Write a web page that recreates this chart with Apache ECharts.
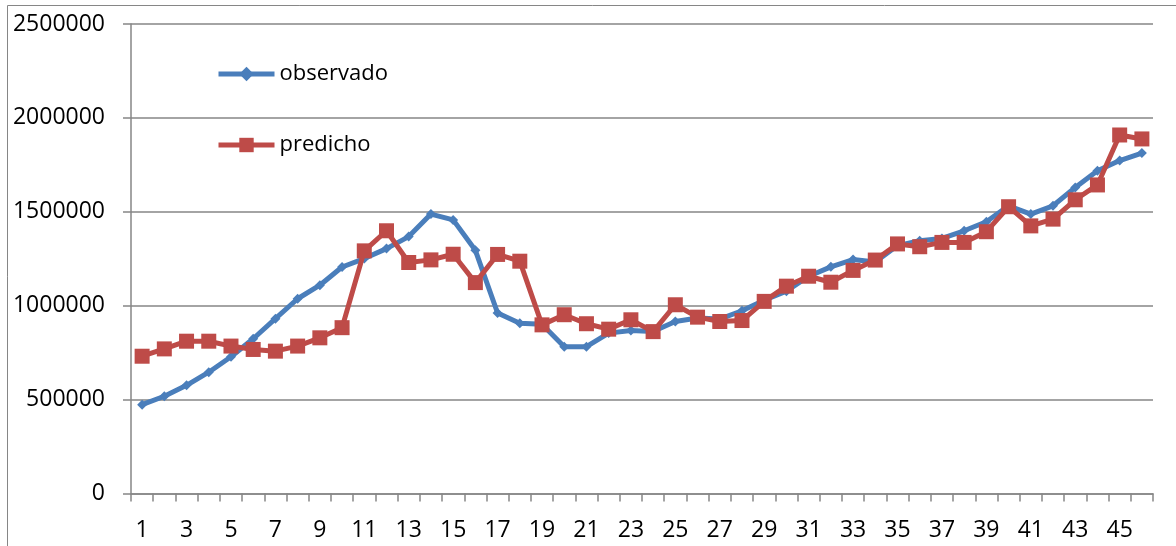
<!DOCTYPE html>
<html>
<head>
<meta charset="utf-8">
<script src="https://cdn.jsdelivr.net/npm/echarts@6/dist/echarts.min.js"></script>
<style>
  html, body { margin: 0; padding: 0; background: #ffffff; }
  #chart { width: 1176px; height: 546px; }
</style>
</head>
<body>
<div id="chart"></div>
<script>
// Periods 1..46
const periods = Array.from({ length: 46 }, (_, i) => String(i + 1));

// Observed series
const observado = [
  473000, 518000, 576000, 646000, 728000, 824000, 931000, 1037000, 1109000, 1206000,
  1251000, 1304000, 1368000, 1488000, 1457000, 1295000, 961000, 907000, 901000, 782000,
  782000, 854000, 868000, 863000, 916000, 934000, 929000, 973000, 1029000, 1077000,
  1157000, 1207000, 1246000, 1233000, 1320000, 1346000, 1358000, 1399000, 1447000, 1532000,
  1488000, 1532000, 1630000, 1719000, 1773000, 1813000
];

// Predicted series
const predicho = [
  731000, 770000, 811000, 811000, 785000, 767000, 758000, 785000, 829000, 883000,
  1292000, 1399000, 1230000, 1244000, 1274000, 1123000, 1273000, 1237000, 898000, 952000,
  904000, 875000, 925000, 862000, 1005000, 939000, 916000, 921000, 1023000, 1104000,
  1157000, 1125000, 1188000, 1243000, 1329000, 1314000, 1337000, 1337000, 1394000, 1527000,
  1425000, 1461000, 1564000, 1643000, 1909000, 1888000
];

const yTicks = { min: 0, max: 2500000, interval: 500000 };

const BLUE = '#4A7EBB';
const RED = '#BE4B48';
const AXIS = '#868686';
const FONT = '"Open Sans", "Noto Sans", sans-serif';

const chart = echarts.init(document.getElementById('chart'), null, { renderer: 'canvas' });

const legendBase = {
  padding: 0,
  itemWidth: 56,
  itemHeight: 18,
  lineStyle: { width: 5 },
  textStyle: { fontFamily: FONT, fontSize: 22, color: '#000', lineHeight: 22 }
};

chart.setOption({
  animation: false,
  backgroundColor: '#ffffff',
  graphic: [{
    type: 'rect',
    silent: true,
    shape: { x: 7.5, y: 5.5, width: 1200, height: 600 },
    style: { fill: 'none', stroke: AXIS, lineWidth: 1 }
  }],
  grid: { left: 131, right: 23, top: 24, bottom: 52.5, containLabel: false },
  legend: [
    Object.assign({ data: ['observado'], left: 216, top: 63 }, legendBase),
    Object.assign({ data: ['predicho'], left: 216, top: 134 }, legendBase)
  ],
  xAxis: {
    type: 'category',
    data: periods,
    boundaryGap: true,
    axisLine: { lineStyle: { color: AXIS, width: 1.5 } },
    axisTick: { show: true, interval: 0, length: 8, inside: false, lineStyle: { color: AXIS, width: 1.5 } },
    axisLabel: { interval: 1, margin: 25, fontFamily: FONT, fontSize: 23, color: '#000' },
    splitLine: { show: false }
  },
  yAxis: {
    type: 'value',
    min: yTicks.min, max: yTicks.max, interval: yTicks.interval,
    axisLine: { show: true, lineStyle: { color: AXIS, width: 1.5 } },
    axisTick: { show: true, length: 8, lineStyle: { color: AXIS, width: 1.5 } },
    axisLabel: {
      margin: 26, fontFamily: FONT, fontSize: 23, color: '#000',
      formatter: (v) => String(v)
    },
    splitLine: { show: true, lineStyle: { color: AXIS, width: 1.5 } }
  },
  series: [
    {
      name: 'observado',
      type: 'line',
      data: observado,
      symbol: 'diamond',
      symbolSize: 10,
      showAllSymbol: true,
      itemStyle: { color: BLUE },
      lineStyle: { color: BLUE, width: 5 },
      z: 2
    },
    {
      name: 'predicho',
      type: 'line',
      data: predicho,
      symbol: 'rect',
      symbolSize: 15,
      showAllSymbol: true,
      itemStyle: { color: RED },
      lineStyle: { color: RED, width: 5 },
      z: 3
    }
  ]
});
</script>
</body>
</html>
